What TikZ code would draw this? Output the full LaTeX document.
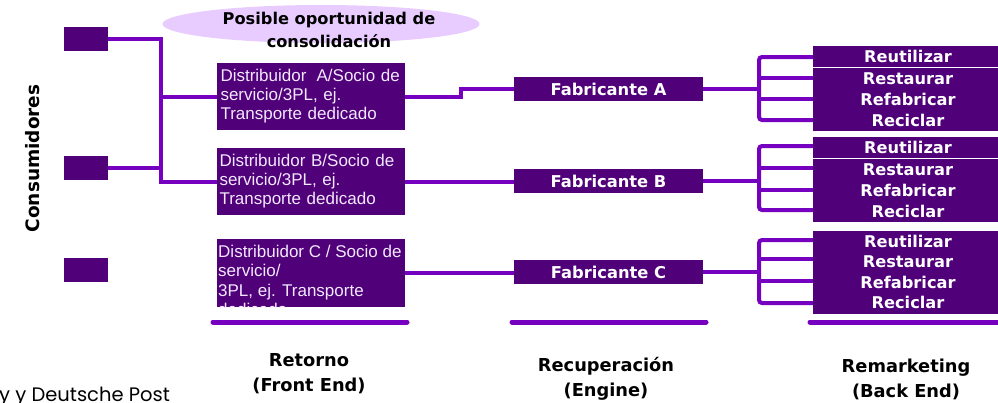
\documentclass[tikz,border=0pt]{standalone}
\usepackage{fontspec}
\setmainfont{Poppins}
\newfontfamily\dvs{DejaVu Sans}
\newfontfamily\lsans{Liberation Sans}
\usetikzlibrary{shapes.geometric}
\definecolor{dk}{HTML}{500078}
\definecolor{ln}{HTML}{7500C0}
\definecolor{lav}{HTML}{E8CCFF}
\definecolor{txt}{HTML}{F2E8FF}
\begin{document}
\begin{tikzpicture}[x=1pt,y=-1pt,
  box/.style={fill=dk, draw=none, inner sep=0pt, outer sep=0pt},
  wire/.style={draw=ln, line width=4pt},
  uline/.style={draw=ln, line width=5pt, line cap=round},
  distbox/.style={box, minimum width=188pt, minimum height=67pt, text=txt, align=left,
     text width=182pt, font=\lsans\fontsize{17}{19}\selectfont},
  fabbox/.style={box, minimum width=189pt, minimum height=24pt, text=white,
     font=\dvs\bfseries\fontsize{16.3}{18}\selectfont},
  rmbox/.style={box, minimum width=190pt, text=white, align=center,
     font=\dvs\bfseries\fontsize{16.2}{21}\selectfont},
  head/.style={font=\dvs\bfseries\fontsize{16.2}{23}\selectfont, align=center, text=black, inner sep=0pt},
  foot/.style={font=\dvs\bfseries\fontsize{17.8}{25}\selectfont, align=center, text=black, inner sep=0pt},
  conbox/.style={box, minimum width=44pt, minimum height=24pt}]
\useasboundingbox (0,0) rectangle (998,402);

% ellipse
\node[ellipse, fill=lav, minimum width=317pt, minimum height=38pt, inner sep=0pt] (ell) at (321,24) {};

% consumers
\node[conbox] (c1) at (86,39) {};
\node[conbox] (c2) at (86,168) {};
\node[conbox] (c3) at (86,270) {};
\node[rotate=90, font=\dvs\bfseries\fontsize{18.5}{20}\selectfont, inner sep=0pt] (cons) at (33,158.5) {Consumidores};

% junction points
\coordinate (jB) at (161,181.5);
\coordinate (sA) at (461,89);

% distributor boxes
\node[distbox, text width=181pt] (dA) at (311,96.5) {Distribuidor\hspace{4.5pt} A/Socio de\\servicio/3PL, ej.\\Transporte dedicado};
\node[distbox, text width=183pt] (dB) at (311,181.5) {Distribuidor B/Socio de\\servicio/3PL, ej.\\Transporte dedicado};
\node[box, minimum width=188pt, minimum height=68pt] (dC) at (311,273) {};
\begin{scope}
\clip (dC.south west) rectangle (dC.north east);
\node[anchor=north west, text=txt, align=left, inner sep=0pt, font=\lsans\fontsize{17}{19.5}\selectfont] (dCt) at ([xshift=1pt,yshift=-5.5pt]dC.north west) {Distribuidor C / Socio de\\servicio/\\3PL, ej. Transporte\\dedicado};
\end{scope}

% manufacturers
\node[fabbox] (fA) at (608.5,89) {Fabricante A};
\node[fabbox] (fB) at (608.5,181) {Fabricante B};
\node[fabbox] (fC) at (608.5,272) {Fabricante C};

% wires
\draw[wire] (c1.east) -| (jB) -- (dB.west);
\draw[wire] (c2.east) -- (c2.east -| jB);
\draw[wire] (dA.west -| jB) -- (dA.west);
\draw[wire] (dA.east) -- (dA.east -| sA) |- (fA.west);
\draw[wire] (dB.east) -- (dB.east -| fB.west);
\draw[wire] (dC.east) -- (dC.east -| fC.west);

% remarketing trees
\coordinate (tA1) at (759,57);  \coordinate (tA2) at (759,78);
\coordinate (tA3) at (759,99);  \coordinate (tA4) at (759,120);
\coordinate (tB1) at (759,146); \coordinate (tB2) at (759,168);
\coordinate (tB3) at (759,190); \coordinate (tB4) at (759,210);
\coordinate (tC1) at (759,240); \coordinate (tC2) at (759,259);
\coordinate (tC3) at (759,281); \coordinate (tC4) at (759,303);

\draw[wire] (fA.east) -- (fA.east -| tA1);
\draw[wire] (fB.east) -- (fB.east -| tB1);
\draw[wire] (fC.east) -- (fC.east -| tC1);

\foreach \g in {A,B,C}{
  \draw[wire, rounded corners=3pt] (816,0 |- t\g1) -- (t\g1) -- (t\g4) -- (816,0 |- t\g4);
  \draw[wire] (t\g2) -- (816,0 |- t\g2);
  \draw[wire] (t\g3) -- (816,0 |- t\g3);
}

% remarketing boxes
\node[rmbox, minimum height=21pt] (rA1) at (908,56.5) {Reutilizar};
\node[rmbox, minimum height=63pt] (rA2) at (908,99.5) {Restaurar\\Refabricar\\Reciclar};
\node[rmbox, minimum height=21pt] (rB1) at (908,147.5) {Reutilizar};
\node[rmbox, minimum height=63pt] (rB2) at (908,190.5) {Restaurar\\Refabricar\\Reciclar};
\node[rmbox, minimum height=83pt, font=\dvs\bfseries\fontsize{16.2}{20.6}\selectfont] (rC) at (908,272) {Reutilizar\\Restaurar\\Refabricar\\Reciclar};

% underlines
\coordinate (u1a) at (213,322); \coordinate (u1b) at (407,322);
\coordinate (u2a) at (512,322); \coordinate (u2b) at (706,322);
\coordinate (u3a) at (810,322); \coordinate (u3b) at (1005,322);
\draw[uline] (u1a) -- (u1b);
\draw[uline] (u2a) -- (u2b);
\draw[uline] (u3a) -- (u3b);

% headings
\node[head] (opp) at (329,30) {Posible oportunidad de\\consolidación};
\node[foot] (ret) at (309,373.5) {Retorno\\(Front End)};
\node[foot] (rec) at (606,378.5) {Recuperación\\(Engine)};
\node[foot] (rem) at (906,379.5) {Remarketing\\(Back End)};

\node[anchor=base west, inner sep=0pt, font=\fontsize{19.5}{22}\selectfont] (src) at (-1,401) {y y Deutsche Post};
\end{tikzpicture}
\end{document}
